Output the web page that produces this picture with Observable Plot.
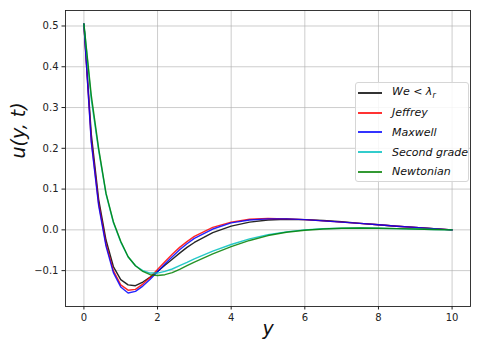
<!DOCTYPE html>
<html>
<head>
<meta charset="utf-8">
<script src="https://cdn.jsdelivr.net/npm/d3@7"></script>
<script src="https://cdn.jsdelivr.net/npm/@observablehq/plot@0.6"></script>
<style>
  body { margin: 0; background: #fff; }
  #wrap { position: relative; width: 480px; height: 353px; font-family: "DejaVu Sans", sans-serif; }
  #legend { position: absolute; left: 355px; top: 82px; width: 114px; height: 100px; box-sizing: border-box;
    border: 1px solid #d6d6d6; border-radius: 3px; background: rgba(255,255,255,0.85); }
  .row { position: absolute; left: 0; height: 20px; display: flex; align-items: center; font-size: 11px; font-style: italic; color: #111; white-space: nowrap; }
  .sw { width: 24px; height: 2px; margin-left: 2px; margin-right: 10px; }
</style>
</head>
<body>
<div id="wrap"></div>
<script>
const yPos = [0,0.2,0.4,0.6,0.8,1.0,1.2,1.4,1.6,1.8,2.0,2.2,2.4,2.6,2.8,3.0,3.5,4.0,4.5,5.0,5.5,6.0,6.5,7.0,7.5,8.0,8.5,9.0,9.5,10];
const weLambda = [0.505,0.235,0.075,-0.025,-0.09,-0.122,-0.135,-0.137,-0.128,-0.116,-0.102,-0.087,-0.072,-0.057,-0.043,-0.031,-0.007,0.009,0.019,0.024,0.026,0.025,0.023,0.020,0.016,0.0125,0.009,0.006,0.003,0.0];
const jeffrey = [0.505,0.22,0.065,-0.035,-0.10,-0.135,-0.148,-0.146,-0.133,-0.116,-0.097,-0.078,-0.060,-0.043,-0.029,-0.016,0.006,0.019,0.026,0.028,0.027,0.025,0.022,0.019,0.016,0.0125,0.009,0.006,0.003,0.0];
const maxwell = [0.505,0.215,0.06,-0.04,-0.105,-0.14,-0.155,-0.151,-0.138,-0.121,-0.103,-0.084,-0.066,-0.049,-0.034,-0.021,0.002,0.017,0.024,0.027,0.027,0.025,0.022,0.019,0.016,0.0125,0.009,0.006,0.003,0.0];
const secondGrade = [0.505,0.32,0.195,0.088,0.018,-0.03,-0.066,-0.088,-0.100,-0.106,-0.106,-0.102,-0.096,-0.088,-0.080,-0.071,-0.052,-0.036,-0.022,-0.012,-0.005,0.0,0.003,0.004,0.0045,0.004,0.003,0.002,0.001,0.0];
const newtonian = [0.505,0.33,0.20,0.09,0.02,-0.028,-0.066,-0.088,-0.102,-0.110,-0.112,-0.110,-0.105,-0.097,-0.088,-0.079,-0.059,-0.041,-0.026,-0.014,-0.006,-0.001,0.002,0.004,0.0045,0.004,0.003,0.002,0.001,0.0];

const seriesNames = ["We < λr", "Jeffrey", "Maxwell", "Second grade", "Newtonian"];
const seriesHtml = ["We &lt; λ<sub style=\"font-size:8px\">r</sub>", "Jeffrey", "Maxwell", "Second grade", "Newtonian"];
const seriesValues = [weLambda, jeffrey, maxwell, secondGrade, newtonian];
const seriesColors = ["#000000", "#ff0000", "#0000ff", "#00bfbf", "#008000"];
const xTicks = [0, 2, 4, 6, 8, 10];
const yTicks = [-0.1, 0.0, 0.1, 0.2, 0.3, 0.4, 0.5];

const data = [];
seriesNames.forEach((name, i) => {
  seriesValues[i].forEach((v, j) => data.push({series: name, y: yPos[j], u: v}));
});

const chart = Plot.plot({
  width: 480, height: 353,
  marginLeft: 65, marginRight: 10, marginTop: 10, marginBottom: 47,
  style: {fontFamily: "DejaVu Sans, sans-serif", fontSize: "10px", color: "#222", background: "#fff"},
  x: {domain: [-0.5, 10.5]},
  y: {domain: [-0.188, 0.538]},
  color: {domain: seriesNames, range: seriesColors},
  marks: [
    Plot.gridX(xTicks, {stroke: "#b0b0b0", strokeOpacity: 0.8, strokeWidth: 0.8}),
    Plot.gridY(yTicks, {stroke: "#b0b0b0", strokeOpacity: 0.8, strokeWidth: 0.8}),
    Plot.axisX(xTicks, {tickSize: 3.5, tickPadding: 3.5, label: null, fontSize: 10, stroke: "#222"}),
    Plot.axisY(yTicks, {tickSize: 3.5, tickPadding: 3.5, label: null, tickFormat: d3.format(".1f"), fontSize: 10, stroke: "#222"}),
    Plot.line(data, {x: "y", y: "u", z: "series", stroke: "series", strokeWidth: 1.4, strokeOpacity: 0.85}),
    Plot.frame({stroke: "#222", strokeWidth: 0.9}),
    Plot.text(["u(y, t)"], {frameAnchor: "left", dx: -47, rotate: -90, fontSize: 19, fontStyle: "italic", fill: "#111", text: d => d}),
    Plot.text(["y"], {frameAnchor: "bottom", dy: 28, fontSize: 19, fontStyle: "italic", fill: "#111", text: d => d})
  ]
});

const wrap = document.getElementById("wrap");
wrap.appendChild(chart);
const legend = document.createElement("div");
legend.id = "legend";
seriesNames.forEach((name, i) => {
  const row = document.createElement("div");
  row.className = "row";
  row.style.top = (0 + i * 19.7) + "px";
  row.innerHTML = `<span class="sw" style="background:${seriesColors[i]};opacity:0.8"></span><span>${seriesHtml[i]}</span>`;
  legend.appendChild(row);
});
wrap.appendChild(legend);
</script>
</body>
</html>
